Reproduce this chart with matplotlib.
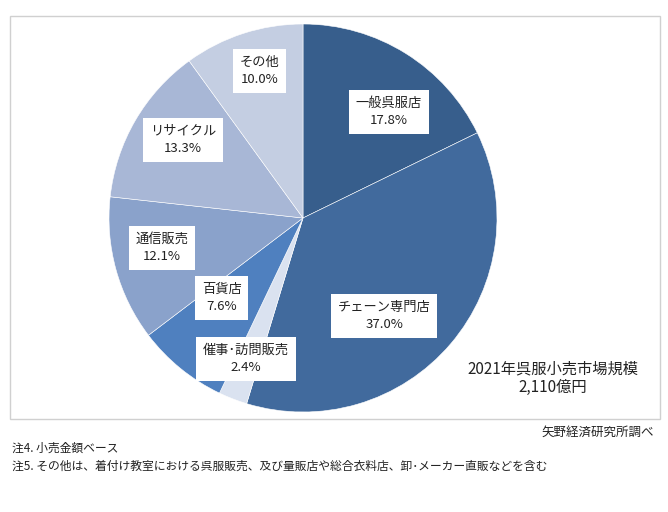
import matplotlib
matplotlib.use('Agg')
import matplotlib.pyplot as plt
from matplotlib.patches import Rectangle

plt.rcParams['font.family'] = ['Noto Sans CJK JP', 'DejaVu Sans']

categories = ['一般呉服店', 'チェーン専門店', '催事･訪問販売', '百貨店', '通信販売', 'リサイクル', 'その他']
shares = [17.8, 37.0, 2.4, 7.6, 12.1, 13.3, 10.0]
colors = ['#375e8c', '#416a9d', '#dae2f0', '#4f80bf', '#8aa2cb', '#a8b7d6', '#c4cee2']

# label box centres, in pie-radius units (layout only)
label_xy = [(0.443, 0.546), (0.418, -0.505), (-0.294, -0.727), (-0.418, -0.412),
            (-0.727, -0.155), (-0.619, 0.402), (-0.222, 0.758)]

total_title = '2021年呉服小売市場規模'
total_value = '2,110億円'
source = '矢野経済研究所調べ'
notes = ['注4. 小売金額ベース',
         '注5. その他は、着付け教室における呉服販売、及び量販店や総合衣料店、卸･メーカー直販などを含む']

W, H = 668, 512
fig = plt.figure(figsize=(W / 100, H / 100), dpi=100)

# outer frame
fig.patches.append(Rectangle((10 / W, (H - 419) / H), 650 / W, 403 / H,
                             transform=fig.transFigure, fill=False,
                             edgecolor='#d0d0d0', linewidth=1))

cx, cy, r = 303, 218, 194
ax = fig.add_axes([(cx - r) / W, (H - cy - r) / H, 2 * r / W, 2 * r / H])
ax.pie(shares, colors=colors, startangle=90, counterclock=False, radius=1,
       wedgeprops=dict(edgecolor='white', linewidth=0.4))
ax.set_xlim(-1, 1)
ax.set_ylim(-1, 1)
ax.set_aspect('equal')
ax.axis('off')

for name, val, (x, y) in zip(categories, shares, label_xy):
    ax.text(x, y, f'{name}\n{val:.1f}%', ha='center', va='center', fontsize=9.5,
            linespacing=1.45, color='#222222',
            bbox=dict(boxstyle='square,pad=0.5', facecolor='white', edgecolor='none'))

fig.text(553 / W, 1 - 369 / H, total_title, ha='center', va='center', fontsize=11, color='#222222')
fig.text(553 / W, 1 - 387 / H, total_value, ha='center', va='center', fontsize=11, color='#222222')
fig.text(654 / W, 1 - 432 / H, source, ha='right', va='center', fontsize=9, color='#222222')
fig.text(12 / W, 1 - 448 / H, notes[0], ha='left', va='center', fontsize=8.5, color='#222222')
fig.text(12 / W, 1 - 466 / H, notes[1], ha='left', va='center', fontsize=8.5, color='#222222')

fig.savefig('out.png', dpi=100, facecolor='white')
